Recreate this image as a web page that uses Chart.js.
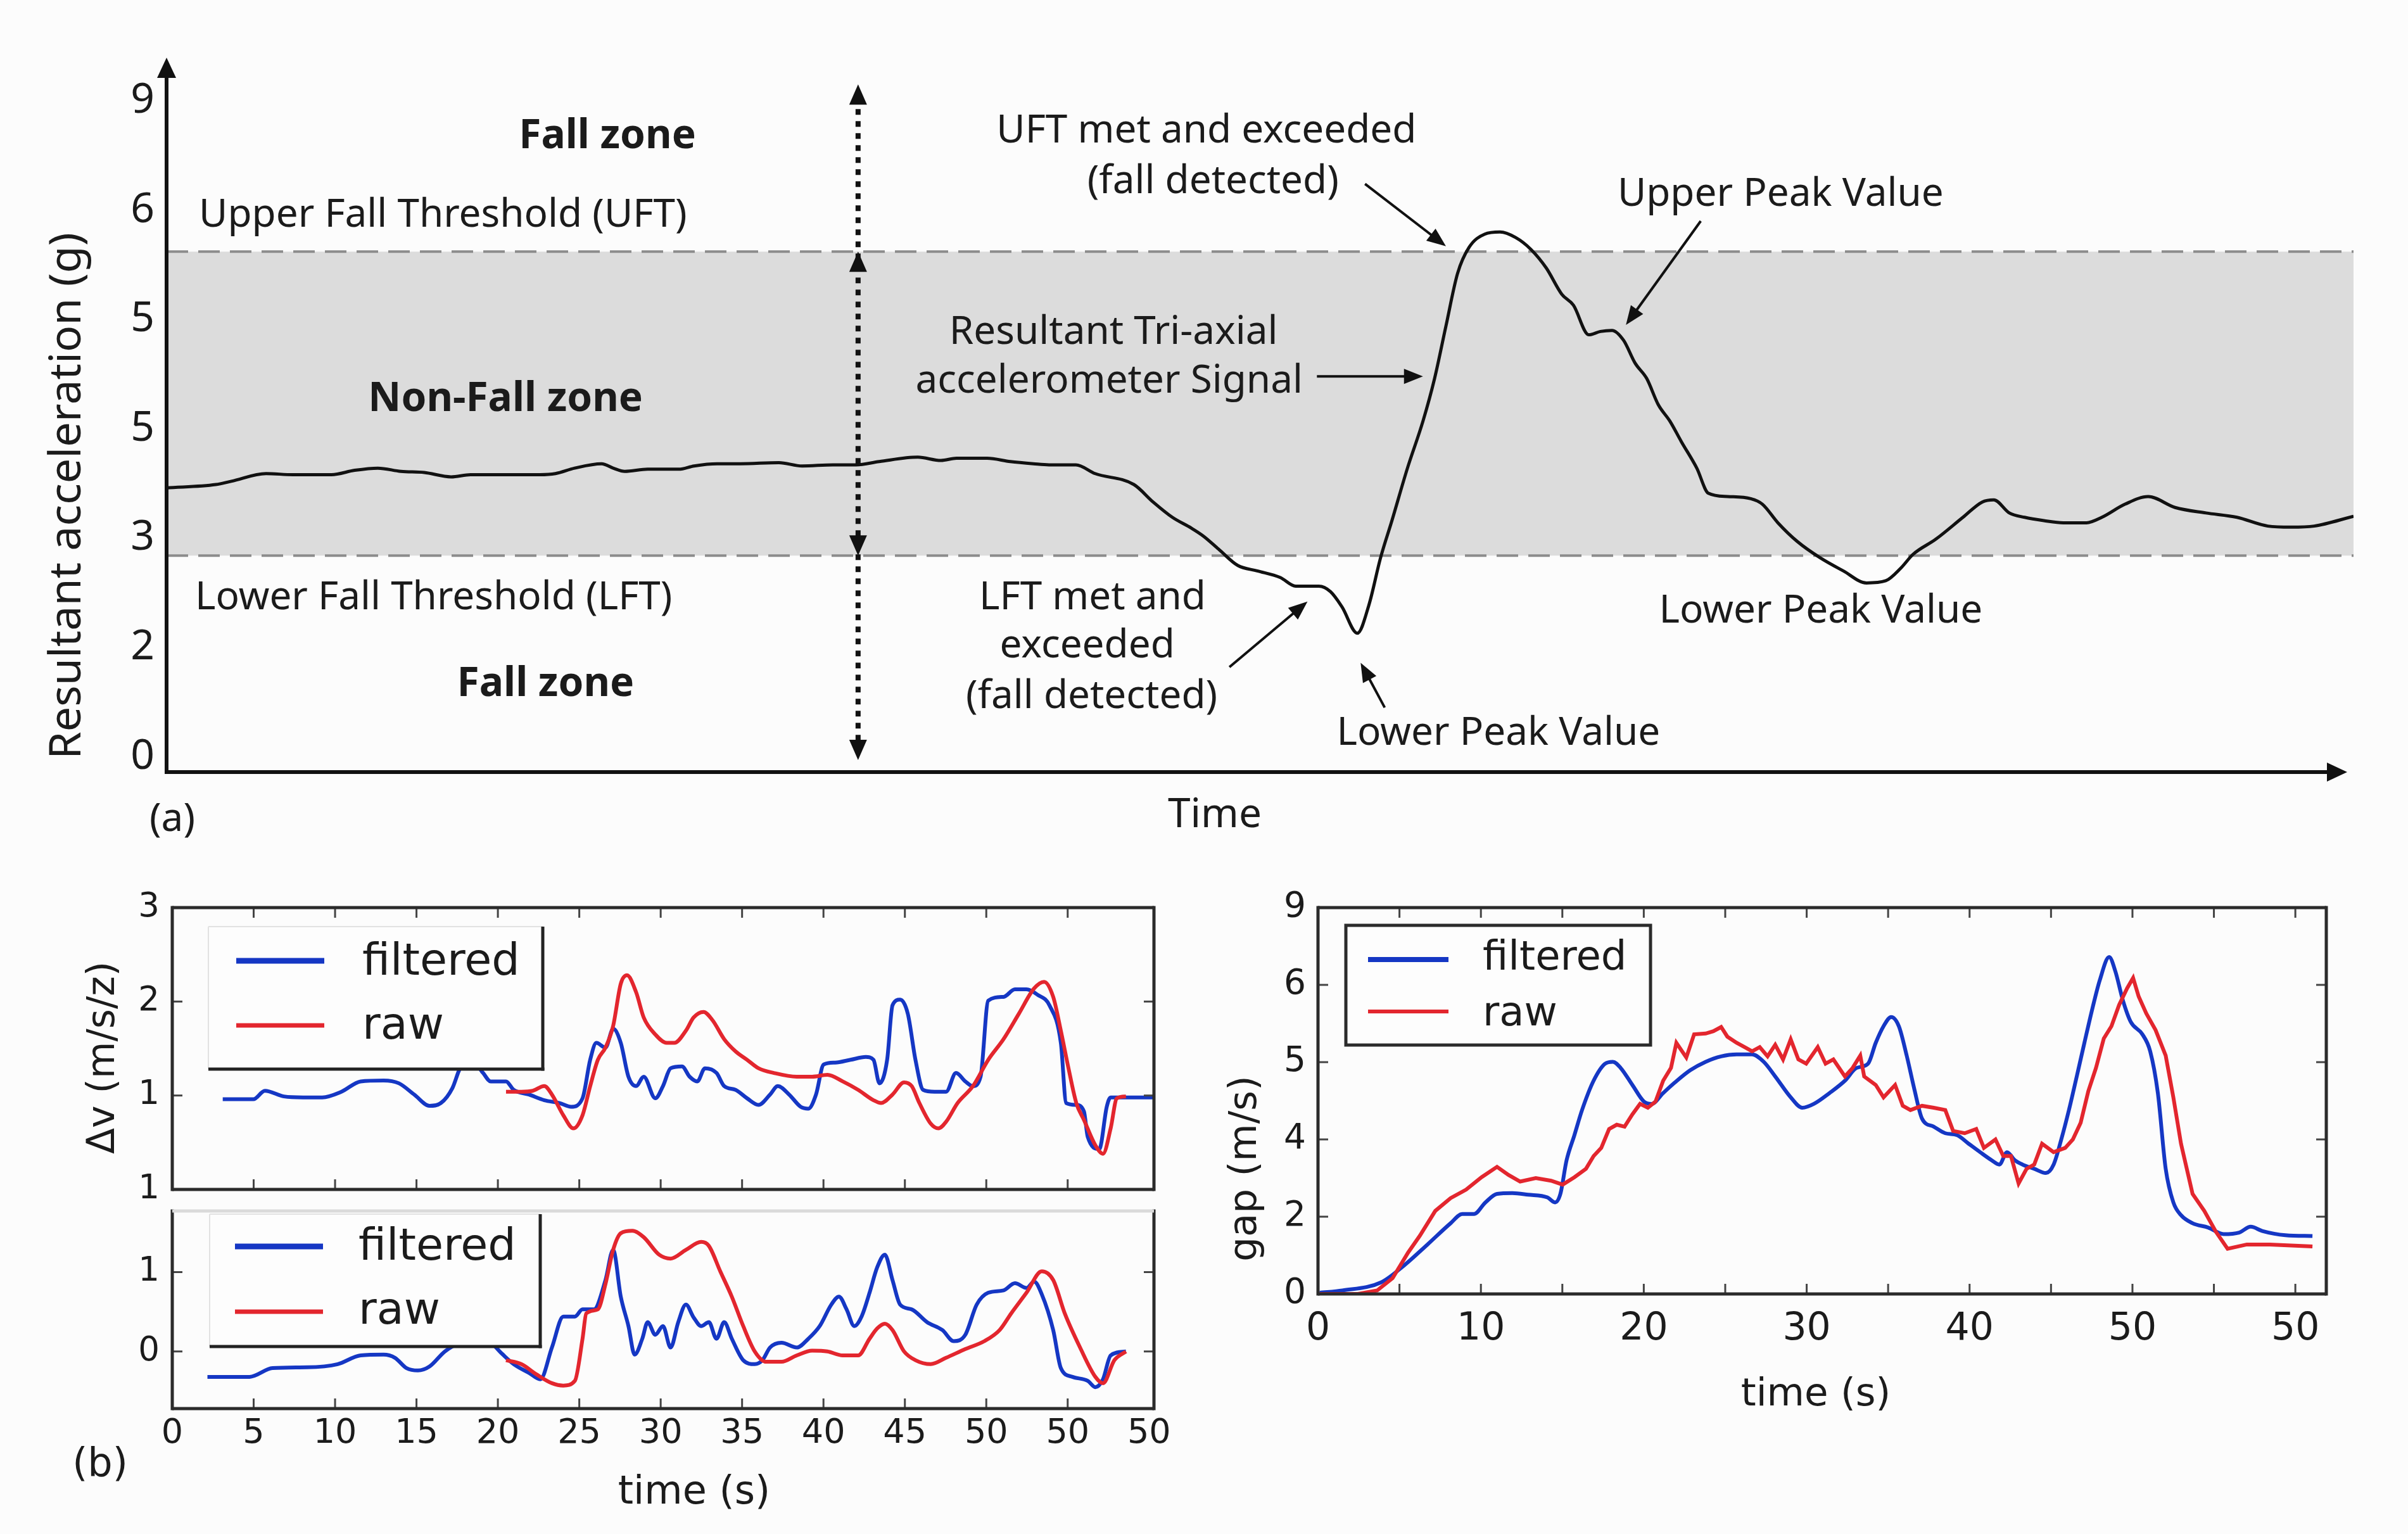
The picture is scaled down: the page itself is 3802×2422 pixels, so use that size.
<!DOCTYPE html>
<html>
<head>
<meta charset="utf-8">
<script src="https://cdn.jsdelivr.net/npm/chart.js@4.4.1/dist/chart.umd.min.js"></script>
<style>
    html, body { margin: 0; padding: 0; background: #fcfcfc; }
    body { width: 3802px; height: 2422px; position: relative; overflow: hidden; }
    .box { position: absolute; }
</style>
</head>
<body>
<div class="box" style="left:0;top:0;width:3802px;height:1340px"><canvas id="chartA"></canvas></div>
<div class="box" style="left:0;top:1380px;width:1900px;height:520px"><canvas id="chartB1"></canvas></div>
<div class="box" style="left:0;top:1850px;width:1900px;height:572px"><canvas id="chartB2"></canvas></div>
<div class="box" style="left:1900px;top:1380px;width:1902px;height:1042px"><canvas id="chartC"></canvas></div>
<script>
// (a) resultant acceleration, x is an arbitrary time axis 0..100
const signalTime = [
    0, 2.25, 2.96, 4.55, 5.78, 7.54, 8.6, 9.66, 10.72, 11.78,
    13.01, 13.9, 14.96, 17.07, 17.78, 18.66, 19.89, 20.42, 20.95, 22.0,
    23.42, 24.12, 25.18, 26.24, 28.0, 29.06, 30.47, 31.53, 32.59, 34.35,
    35.41, 36.12, 37.52, 38.58, 39.64, 40.35, 41.58, 42.46, 44.23, 45.11,
    45.99, 46.87, 47.4, 48.1, 48.98, 49.87, 50.92, 51.63, 52.69, 53.22,
    53.75, 54.45, 54.98, 55.51, 56.03, 56.74, 57.45, 57.98, 58.5, 59.03,
    59.56, 60.27, 60.97, 61.68, 62.39, 63.09, 63.8, 64.33, 65.03, 65.56,
    66.09, 66.62, 67.15, 67.68, 68.21, 68.74, 69.27, 69.97, 70.5, 71.38,
    72.44, 72.97, 73.68, 74.56, 75.61, 76.67, 77.73, 78.61, 79.32, 79.85,
    80.9, 82.14, 83.02, 83.55, 84.26, 84.96, 85.84, 86.73, 87.79, 88.49,
    89.55, 90.61, 91.84, 93.25, 94.67, 96.08, 97.14, 98.2, 100
];
const signalAccel = [
    2.46, 2.49, 2.52, 2.59, 2.58, 2.58, 2.62, 2.64, 2.61, 2.6,
    2.56, 2.58, 2.58, 2.58, 2.59, 2.64, 2.68, 2.64, 2.61, 2.63,
    2.63, 2.66, 2.68, 2.68, 2.69, 2.66, 2.67, 2.67, 2.7, 2.74,
    2.71, 2.73, 2.73, 2.7, 2.68, 2.67, 2.67, 2.59, 2.49, 2.33,
    2.19, 2.09, 2.02, 1.9, 1.75, 1.7, 1.64, 1.56, 1.56, 1.51,
    1.37, 1.13, 1.39, 1.82, 2.16, 2.64, 3.07, 3.46, 3.94, 4.42,
    4.66, 4.78, 4.8, 4.75, 4.64, 4.47, 4.23, 4.13, 3.86, 3.89,
    3.9, 3.81, 3.6, 3.46, 3.22, 3.07, 2.88, 2.64, 2.41, 2.38,
    2.36, 2.31, 2.14, 1.97, 1.82, 1.7, 1.59, 1.61, 1.73, 1.85,
    1.99, 2.19, 2.33, 2.35, 2.23, 2.19, 2.16, 2.14, 2.14, 2.19,
    2.31, 2.38, 2.28, 2.23, 2.19, 2.11, 2.1, 2.11, 2.2
];
const accelTickValues = [0, 1, 2, 3, 4, 5, 6];
const accelTickLabels = ['0', '2', '3', '5', '5', '6', '9'];
const UFT = 4.62;
const LFT = 1.84;

// (b) upper panel: delta v
const dvTopFilteredT = [
    3.1, 4.98, 5.69, 6.86, 8.04, 9.21, 10.39, 11.57, 12.98, 13.92,
    14.86, 15.8, 16.5, 17.21, 17.68, 18.38, 19.09, 19.56, 20.5, 20.97,
    21.91, 22.85, 23.79, 24.5, 25.2, 25.67, 26.05, 26.61, 27.08, 27.55,
    28.02, 28.49, 28.96, 29.67, 30.14, 30.61, 31.31, 31.78, 32.25, 32.72,
    33.43, 33.9, 34.6, 35.31, 36.01, 36.72, 37.19, 37.89, 38.6, 39.07,
    39.54, 40.01, 40.71, 41.66, 42.6, 43.07, 43.44, 43.91, 44.24, 44.71,
    45.18, 45.65, 46.12, 46.83, 47.53, 48.14, 48.71, 49.18, 49.65, 50.12,
    51.06, 51.76, 52.47, 53.17, 53.88, 54.58, 54.91, 55.53, 56.0, 56.23,
    56.94, 57.4, 57.64, 60.3
];
const dvTopFilteredV = [
    0.96, 0.96, 1.05, 0.99, 0.98, 0.98, 1.04, 1.15, 1.16, 1.13,
    1.01, 0.89, 0.92, 1.08, 1.29, 1.38, 1.24, 1.15, 1.15, 1.06,
    1.01, 0.95, 0.92, 0.88, 0.97, 1.38, 1.56, 1.51, 1.71, 1.56,
    1.2, 1.1, 1.2, 0.97, 1.1, 1.29, 1.31, 1.2, 1.15, 1.29,
    1.24, 1.1, 1.06, 0.97, 0.9, 1.01, 1.1, 1.01, 0.88, 0.86,
    1.01, 1.33, 1.35, 1.38, 1.41, 1.38, 1.13, 1.38, 1.96, 2.02,
    1.87, 1.38, 1.06, 1.04, 1.04, 1.24, 1.15, 1.1, 1.2, 2.01,
    2.05, 2.13, 2.13, 2.07, 1.96, 1.56, 0.92, 0.9, 0.83, 0.56,
    0.43, 0.88, 0.98, 0.98
];
const dvTopRawT = [
    20.5, 21.44, 22.14, 22.85, 23.32, 24.02, 24.64, 25.2, 25.67, 26.14,
    26.61, 27.08, 27.55, 27.93, 28.49, 28.96, 29.67, 30.37, 30.84, 31.55,
    32.02, 32.63, 33.19, 33.9, 34.6, 35.31, 36.01, 36.95, 38.36, 39.3,
    40.24, 41.18, 42.13, 43.07, 43.54, 44.24, 44.95, 45.42, 45.89, 46.59,
    47.06, 47.53, 48.24, 49.18, 50.12, 51.06, 52.0, 52.94, 53.55, 54.11,
    54.58, 55.05, 55.53, 56.0, 56.7, 57.17, 57.64, 58.02, 58.58
];
const dvTopRawV = [
    1.04, 1.04, 1.05, 1.1, 1.01, 0.79, 0.65, 0.79, 1.1, 1.38,
    1.51, 1.74, 2.19, 2.28, 2.1, 1.83, 1.65, 1.56, 1.56, 1.69,
    1.83, 1.89, 1.8, 1.6, 1.47, 1.38, 1.29, 1.24, 1.2, 1.2,
    1.22, 1.15, 1.06, 0.95, 0.92, 1.01, 1.14, 1.1, 0.92, 0.7,
    0.65, 0.72, 0.92, 1.1, 1.38, 1.6, 1.87, 2.14, 2.21, 2.05,
    1.69, 1.29, 0.92, 0.74, 0.47, 0.38, 0.65, 0.97, 0.99
];
const dvTopTickValues = [0, 1, 2, 3];
const dvTopTickLabels = ['1', '1', '2', '3'];

// (b) lower panel
const dvBotFilteredT = [
    2.16, 4.75, 6.16, 8.27, 10.16, 11.57, 12.98, 13.68, 14.39, 15.09,
    15.8, 16.74, 17.68, 18.62, 19.56, 20.26, 20.97, 21.91, 22.61, 23.32,
    24.02, 24.73, 25.2, 25.9, 26.61, 27.08, 27.55, 28.02, 28.4, 28.87,
    29.2, 29.67, 30.14, 30.61, 31.08, 31.55, 32.02, 32.49, 32.96, 33.43,
    33.9, 34.37, 35.07, 35.78, 36.25, 36.72, 37.42, 38.36, 39.07, 39.77,
    40.48, 40.95, 41.42, 41.89, 42.36, 42.83, 43.3, 43.77, 44.24, 44.71,
    45.42, 46.36, 47.3, 48.0, 48.71, 49.41, 50.12, 51.06, 51.76, 52.47,
    52.94, 53.41, 54.11, 54.58, 55.29, 56.23, 56.7, 57.17, 57.64, 58.58
];
const dvBotFilteredV = [
    -0.32, -0.32, -0.21, -0.2, -0.16, -0.05, -0.04, -0.08, -0.21, -0.24,
    -0.19, 0, 0.11, 0.16, 0.11, -0.03, -0.16, -0.27, -0.35, 0.05,
    0.44, 0.44, 0.53, 0.53, 0.9, 1.28, 0.69, 0.32, -0.04, 0.16,
    0.37, 0.21, 0.32, 0.05, 0.37, 0.59, 0.43, 0.32, 0.37, 0.16,
    0.37, 0.16, -0.11, -0.16, -0.11, 0.05, 0.11, 0.05, 0.16, 0.32,
    0.59, 0.69, 0.53, 0.32, 0.45, 0.74, 1.06, 1.22, 0.9, 0.59,
    0.53, 0.37, 0.27, 0.13, 0.21, 0.59, 0.74, 0.77, 0.86, 0.8,
    0.88, 0.72, 0.27, -0.21, -0.32, -0.37, -0.45, -0.35, -0.05, 0
];
const dvBotRawT = [
    20.5, 21.44, 22.38, 23.32, 24.02, 24.73, 25.2, 25.43, 26.14, 26.61,
    27.08, 27.55, 28.26, 28.96, 29.9, 30.61, 31.55, 32.49, 32.96, 33.66,
    34.37, 35.07, 35.78, 36.48, 37.42, 38.36, 39.3, 40.24, 41.18, 42.13,
    42.83, 43.3, 43.77, 44.24, 44.95, 45.65, 46.59, 47.53, 48.71, 49.88,
    50.82, 51.53, 52.47, 53.41, 54.11, 54.82, 55.76, 56.7, 57.17, 57.87,
    58.58
];
const dvBotRawV = [
    -0.11, -0.16, -0.29, -0.4, -0.43, -0.37, 0.16, 0.48, 0.53, 0.85,
    1.28, 1.49, 1.52, 1.44, 1.22, 1.17, 1.28, 1.38, 1.33, 1.01,
    0.69, 0.32, 0, -0.13, -0.13, -0.05, 0.01, 0, -0.05, -0.05,
    0.16, 0.29, 0.35, 0.27, 0, -0.11, -0.16, -0.08, 0.03, 0.13,
    0.27, 0.48, 0.74, 1.01, 0.9, 0.48, 0.05, -0.32, -0.4, -0.11,
    0
];
const dvBotTickValues = [0, 1];
const dvBotTickLabels = ['0', '1'];
const dvTimeTickValues = [0, 5, 10, 15, 20, 25, 30, 35, 40, 45, 50, 55, 60];
const dvTimeTickLabels = ['0', '5', '10', '15', '20', '25', '30', '35', '40', '45', '50', '50', '50'];
const dvTimeMarks = [5, 10, 15, 20, 25, 30, 35, 40, 45, 50, 55];

// gap panel (y in grid steps, labelled below)
const gapFilteredT = [
    0.1, 1.5, 3.87, 5.29, 6.72, 8.14, 8.86, 9.57, 10.28, 10.99,
    11.93, 12.89, 14.08, 14.55, 14.88, 15.26, 15.74, 16.21, 16.92, 17.63,
    18.1, 18.58, 19.3, 20.01, 20.48, 21.19, 21.9, 22.85, 23.8, 24.75,
    25.7, 26.65, 27.36, 28.07, 29.02, 29.73, 30.44, 31.4, 32.35, 33.06,
    33.77, 34.24, 34.72, 35.19, 35.66, 36.14, 36.61, 37.08, 37.8, 38.51,
    39.23, 39.94, 40.65, 41.36, 41.83, 42.3, 42.78, 43.25, 43.97, 44.68,
    45.16, 45.63, 46.1, 46.58, 47.05, 47.53, 48.0, 48.57, 48.95, 49.42,
    49.9, 50.61, 51.09, 51.56, 52.04, 52.51, 52.98, 53.69, 54.64, 55.59,
    56.55, 57.26, 57.97, 59.39, 61.05
];
const gapFilteredV = [
    0.03, 0.09, 0.3, 0.74, 1.28, 1.83, 2.07, 2.07, 2.37, 2.59,
    2.61, 2.57, 2.5, 2.37, 2.59, 3.46, 4.11, 4.76, 5.52, 5.96,
    6.01, 5.85, 5.41, 4.98, 4.92, 5.2, 5.47, 5.79, 6.01, 6.15,
    6.2, 6.2, 6.01, 5.63, 5.09, 4.82, 4.92, 5.2, 5.52, 5.85,
    5.96, 6.5, 6.93, 7.17, 6.93, 6.17, 5.3, 4.54, 4.33, 4.16,
    4.11, 3.89, 3.67, 3.46, 3.35, 3.67, 3.46, 3.35, 3.24, 3.13,
    3.35, 4.0, 4.76, 5.63, 6.5, 7.37, 8.13, 8.72, 8.35, 7.59,
    7.04, 6.72, 6.28, 5.2, 3.24, 2.37, 2.04, 1.83, 1.72, 1.55,
    1.59, 1.74, 1.63, 1.52, 1.5
];
const gapRawT = [
    0.1, 2.45, 3.63, 4.58, 5.53, 6.24, 7.2, 8.14, 9.09, 10.04,
    10.99, 11.7, 12.41, 13.37, 14.31, 15.02, 15.74, 16.45, 16.92, 17.39,
    17.87, 18.34, 18.82, 19.3, 19.77, 20.25, 20.72, 21.19, 21.67, 22.0,
    22.61, 23.09, 23.8, 24.27, 24.75, 25.13, 25.7, 26.18, 26.65, 27.12,
    27.6, 28.07, 28.55, 29.02, 29.49, 29.97, 30.68, 31.16, 31.64, 32.35,
    32.82, 33.29, 33.53, 34.24, 34.72, 35.43, 35.9, 36.37, 37.08, 37.8,
    38.51, 38.99, 39.7, 40.41, 40.88, 41.59, 42.07, 42.54, 43.01, 43.5,
    43.97, 44.45, 45.16, 45.87, 46.34, 46.82, 47.29, 47.76, 48.24, 48.71,
    49.18, 49.67, 50.04, 50.38, 50.85, 51.42, 52.04, 52.51, 52.98, 53.69,
    54.41, 55.12, 55.84, 57.02, 58.44, 61.05
];
const gapRawV = [
    0, 0, 0.09, 0.41, 1.07, 1.5, 2.15, 2.48, 2.7, 3.02,
    3.29, 3.08, 2.91, 3.0, 2.93, 2.83, 3.02, 3.24, 3.57, 3.78,
    4.27, 4.38, 4.33, 4.65, 4.92, 4.82, 4.98, 5.52, 5.85, 6.5,
    6.12, 6.72, 6.74, 6.8, 6.91, 6.66, 6.5, 6.39, 6.28, 6.39,
    6.15, 6.45, 6.07, 6.59, 6.07, 5.96, 6.39, 5.96, 6.07, 5.63,
    5.85, 6.17, 5.63, 5.41, 5.09, 5.41, 4.87, 4.76, 4.87, 4.82,
    4.76, 4.22, 4.16, 4.27, 3.78, 4.0, 3.57, 3.57, 2.86, 3.24,
    3.35, 3.89, 3.67, 3.78, 4.0, 4.43, 5.25, 5.85, 6.61, 6.93,
    7.48, 7.91, 8.18, 7.7, 7.26, 6.83, 6.17, 5.09, 3.89, 2.59,
    2.15, 1.61, 1.17, 1.28, 1.28, 1.23
];
const gapTickValues = [0, 2, 4, 6, 8, 10];
const gapTickLabels = ['0', '2', '4', '5', '6', '9'];
const gapTimeTickValues = [0, 10, 20, 30, 40, 50, 60];
const gapTimeTickLabels = ['0', '10', '20', '30', '40', '50', '50'];
const gapTimeMarks = [5, 10, 15, 20, 25, 30, 35, 40, 45, 50, 55, 60];
const gapMarks = [2, 4, 6, 8];

const BLUE = '#1537c4';
const RED = '#e3262e';
const INK = '#1b1b1b';
const SANS = '"Noto Sans", sans-serif';
const DEJA = '"DejaVu Sans", sans-serif';

// annotation texts of panel (a), placed in data units
const notes = [
    { text: 'Fall zone', x: 20.16, y: 5.67, bold: true },
    { text: 'Upper Fall Threshold (UFT)', x: 1.48, y: 4.95, left: true },
    { text: 'Non-Fall zone', x: 15.5, y: 3.27, bold: true },
    { text: 'Lower Fall Threshold (LFT)', x: 1.3, y: 1.45, left: true },
    { text: 'Fall zone', x: 17.33, y: 0.66, bold: true },
    { text: 'UFT met and exceeded', x: 47.55, y: 5.72 },
    { text: '(fall detected)', x: 47.85, y: 5.26 },
    { text: 'Upper Peak Value', x: 73.8, y: 5.14 },
    { text: 'Resultant Tri-axial', x: 43.3, y: 3.88 },
    { text: 'accelerometer Signal', x: 43.1, y: 3.43 },
    { text: 'LFT met and', x: 42.34, y: 1.45 },
    { text: 'exceeded', x: 42.1, y: 1.01 },
    { text: '(fall detected)', x: 42.3, y: 0.55 },
    { text: 'Lower Peak Value', x: 60.9, y: 0.21 },
    { text: 'Lower Peak Value', x: 75.64, y: 1.33 }
];
const pointers = [
    [54.8, 5.24, 58.5, 4.67],
    [70.15, 4.9, 66.73, 3.95],
    [52.6, 3.48, 57.45, 3.48],
    [48.6, 0.82, 52.17, 1.42],
    [55.7, 0.45, 54.6, 0.86]
];
const DOTTED_X = 31.62;

function fixedAxis(size) {
    return function (scale) {
        if (scale.isHorizontal()) {
            scale.height = size;
            scale.paddingLeft = 0;
            scale.paddingRight = 0;
        } else {
            scale.width = size;
            scale.paddingTop = 0;
            scale.paddingBottom = 0;
        }
    };
}

function setTicks(values) {
    return function (scale) {
        scale.ticks = values.map(v => ({ value: v }));
    };
}

function series(t, v, color, width, order, smooth) {
    return {
        data: t.map((x, i) => ({ x: x, y: v[i] })),
        borderColor: color,
        borderWidth: width,
        pointRadius: 0,
        fill: false,
        order: order,
        tension: smooth ? 0.3 : 0,
        cubicInterpolationMode: smooth ? 'monotone' : 'default'
    };
}

function line(ctx, x0, y0, x1, y1) {
    ctx.beginPath();
    ctx.moveTo(x0, y0);
    ctx.lineTo(x1, y1);
    ctx.stroke();
}

function head(ctx, x, y, ang, len, half) {
    ctx.beginPath();
    ctx.moveTo(x, y);
    ctx.lineTo(x - len * Math.cos(ang) + half * Math.sin(ang), y - len * Math.sin(ang) - half * Math.cos(ang));
    ctx.lineTo(x - len * Math.cos(ang) - half * Math.sin(ang), y - len * Math.sin(ang) + half * Math.cos(ang));
    ctx.closePath();
    ctx.fill();
}

function label(ctx, text, x, y, font, align, rot) {
    ctx.save();
    ctx.font = font;
    ctx.fillStyle = INK;
    ctx.textAlign = align || 'center';
    ctx.textBaseline = 'middle';
    ctx.translate(x, y);
    if (rot) ctx.rotate(rot);
    ctx.fillText(text, 0, 0);
    ctx.restore();
}

const zonesPlugin = {
    id: 'zones',
    beforeDatasetsDraw(chart) {
        const { ctx, chartArea: a, scales: { y } } = chart;
        const yU = y.getPixelForValue(UFT);
        const yL = y.getPixelForValue(LFT);
        ctx.save();
        ctx.fillStyle = '#dcdcdc';
        ctx.fillRect(a.left, yU, a.right - a.left, yL - yU);
        ctx.strokeStyle = '#8c8c8c';
        ctx.lineWidth = 4;
        ctx.setLineDash([34, 16]);
        line(ctx, a.left, yU, a.right, yU);
        line(ctx, a.left, yL, a.right, yL);
        ctx.restore();
    },
    afterDatasetsDraw(chart) {
        const { ctx, chartArea: a, scales: { x, y } } = chart;
        ctx.save();
        ctx.strokeStyle = '#111';
        ctx.fillStyle = '#111';
        // axes with arrows
        ctx.lineWidth = 6;
        line(ctx, a.left, a.bottom, a.left, 115);
        head(ctx, a.left, 91, -Math.PI / 2, 32, 15);
        line(ctx, a.left - 3, a.bottom, 3685, a.bottom);
        head(ctx, 3706, a.bottom, 0, 32, 15);
        // dotted double arrow
        const px = x.getPixelForValue(DOTTED_X);
        const yU = y.getPixelForValue(UFT);
        const yL = y.getPixelForValue(LFT);
        const yTop = y.getPixelForValue(6.15);
        const yBot = y.getPixelForValue(-0.03);
        ctx.lineWidth = 8;
        ctx.setLineDash([9, 10]);
        line(ctx, px, yTop + 20, px, yBot - 20);
        ctx.setLineDash([]);
        head(ctx, px, yTop, -Math.PI / 2, 32, 14);
        head(ctx, px, yU, -Math.PI / 2, 32, 14);
        head(ctx, px, yL, Math.PI / 2, 32, 14);
        head(ctx, px, yBot, Math.PI / 2, 32, 14);
        // pointer arrows
        ctx.lineWidth = 4;
        pointers.forEach(p => {
            const x0 = x.getPixelForValue(p[0]), y0 = y.getPixelForValue(p[1]);
            const x1 = x.getPixelForValue(p[2]), y1 = y.getPixelForValue(p[3]);
            const ang = Math.atan2(y1 - y0, x1 - x0);
            line(ctx, x0, y0, x1 - 20 * Math.cos(ang), y1 - 20 * Math.sin(ang));
            head(ctx, x1, y1, ang, 30, 12);
        });
        ctx.restore();
        notes.forEach(n => {
            const font = (n.bold ? 'bold 64px ' : '62px ') + SANS;
            label(ctx, n.text, x.getPixelForValue(n.x), y.getPixelForValue(n.y), font, n.left ? 'left' : 'center');
        });
        label(ctx, 'Resultant acceleration (g)', 107, 783, '70px ' + SANS, 'center', -Math.PI / 2);
        label(ctx, 'Time', 1918, 1288, '64px ' + SANS);
        label(ctx, '(a)', 272, 1294, '62px ' + SANS);
    }
};

// spines, inner tick marks, legend box and loose texts of the (b) panels
const framePlugin = {
    id: 'frame',
    afterDatasetsDraw(chart, args, opts) {
        const { ctx, chartArea: a, scales: { x, y } } = chart;
        const box = chart.canvas.parentNode;
        ctx.save();
        ctx.strokeStyle = '#444';
        ctx.lineWidth = 3;
        (opts.xMarks || []).forEach(v => {
            const p = x.getPixelForValue(v);
            line(ctx, p, a.bottom, p, a.bottom - 16);
            if (opts.topMarks) line(ctx, p, a.top, p, a.top + 16);
        });
        (opts.yMarks || []).forEach(v => {
            const p = y.getPixelForValue(v);
            line(ctx, a.left, p, a.left + 16, p);
            line(ctx, a.right, p, a.right - 16, p);
        });
        ctx.lineWidth = 5;
        ctx.strokeStyle = '#2b2b2b';
        line(ctx, a.left, a.top - 2.5, a.left, a.bottom + 2.5);
        line(ctx, a.right, a.top - 2.5, a.right, a.bottom + 2.5);
        line(ctx, a.left, a.bottom, a.right, a.bottom);
        ctx.strokeStyle = opts.topColor || '#2b2b2b';
        line(ctx, a.left, a.top, a.right, a.top);

        ctx.translate(-box.offsetLeft, -box.offsetTop);
        const lg = opts.legend;
        if (lg) {
            const [x0, y0, x1, y1] = lg.box;
            ctx.fillStyle = '#fdfdfd';
            ctx.fillRect(x0, y0, x1 - x0, y1 - y0);
            if (lg.full) {
                ctx.strokeStyle = '#2b2b2b';
                ctx.lineWidth = 5;
                ctx.strokeRect(x0, y0, x1 - x0, y1 - y0);
            } else {
                ctx.strokeStyle = '#e2e2e2';
                ctx.lineWidth = 2;
                line(ctx, x0, y1, x0, y0);
                line(ctx, x0, y0, x1, y0);
                ctx.strokeStyle = '#222';
                ctx.lineWidth = 5;
                line(ctx, x1, y0, x1, y1 + 2.5);
                line(ctx, x0, y1, x1 + 2.5, y1);
            }
            lg.rows.forEach(r => {
                ctx.strokeStyle = r.color;
                ctx.lineWidth = r.width;
                line(ctx, lg.lineX[0], r.y, lg.lineX[1], r.y);
                label(ctx, r.text, lg.textX, r.ty, lg.font, 'left');
            });
        }
        (opts.texts || []).forEach(t => label(ctx, t.text, t.x, t.y, t.font, 'center', t.rot));
        ctx.restore();
    }
};

function baseOptions(pad) {
    return {
        animation: false,
        responsive: true,
        maintainAspectRatio: false,
        events: [],
        layout: { padding: pad },
        plugins: { legend: { display: false }, tooltip: { enabled: false } }
    };
}

function axis(min, max, size, tickValues, tickLabels, font, padding) {
    const ax = {
        type: 'linear',
        min: min,
        max: max,
        grid: { display: false, drawTicks: false },
        border: { display: false },
        afterFit: fixedAxis(size)
    };
    if (tickValues) {
        ax.afterBuildTicks = setTicks(tickValues);
        ax.ticks = {
            callback: v => tickLabels[tickValues.indexOf(v)],
            font: font,
            color: INK,
            padding: padding,
            maxRotation: 0,
            autoSkip: false
        };
    } else {
        ax.ticks = { display: false };
    }
    return ax;
}

// (a)
const optA = baseOptions({ top: 97, right: 86, left: 0, bottom: 0 });
optA.scales = {
    x: axis(0, 100, 121),
    y: axis(-0.14, 6.36, 263, accelTickValues, accelTickLabels, { family: SANS, size: 66 }, 19)
};
new Chart(document.getElementById('chartA'), {
    type: 'line',
    data: { datasets: [series(signalTime, signalAccel, '#111', 5, 0, true)] },
    options: optA,
    plugins: [zonesPlugin]
});

// (b) upper
const optB1 = baseOptions({ top: 53, right: 78, left: 0, bottom: 0 });
optB1.scales = {
    x: axis(0, 60.3, 22),
    y: axis(0, 3, 272, dvTopTickValues, dvTopTickLabels, { family: DEJA, size: 53 }, 20)
};
optB1.plugins.frame = {
    xMarks: dvTimeMarks, topMarks: true, yMarks: [1, 2],
    legend: {
        box: [329, 1463, 857, 1688], full: false,
        lineX: [373, 512], textX: 572, font: '70px ' + DEJA,
        rows: [
            { text: 'filtered', color: BLUE, width: 9, y: 1517, ty: 1521 },
            { text: 'raw', color: RED, width: 7, y: 1619, ty: 1622 }
        ]
    },
    texts: [{ text: 'Δv (m/s/z)', x: 164, y: 1670, font: '60px ' + DEJA, rot: -Math.PI / 2 }]
};
new Chart(document.getElementById('chartB1'), {
    type: 'line',
    data: { datasets: [
        series(dvTopFilteredT, dvTopFilteredV, BLUE, 6, 1, true),
        series(dvTopRawT, dvTopRawV, RED, 6, 0, true)
    ] },
    options: optB1,
    plugins: [framePlugin]
});

// (b) lower
const optB2 = baseOptions({ top: 62, right: 78, left: 0, bottom: 0 });
optB2.scales = {
    x: axis(0, 60.3, 198, dvTimeTickValues, dvTimeTickLabels, { family: DEJA, size: 54 }, 8),
    y: axis(-0.72, 1.77, 272, dvBotTickValues, dvBotTickLabels, { family: DEJA, size: 53 }, 20)
};
optB2.plugins.frame = {
    xMarks: dvTimeMarks, topMarks: false, yMarks: [0, 1], topColor: '#dadada',
    legend: {
        box: [331, 1917, 853, 2126], full: false,
        lineX: [371, 510], textX: 566, font: '70px ' + DEJA,
        rows: [
            { text: 'filtered', color: BLUE, width: 9, y: 1968, ty: 1971 },
            { text: 'raw', color: RED, width: 7, y: 2071, ty: 2072 }
        ]
    },
    texts: [
        { text: 'time (s)', x: 1096, y: 2358, font: '62px ' + DEJA },
        { text: '(b)', x: 158, y: 2314, font: '62px ' + DEJA }
    ]
};
new Chart(document.getElementById('chartB2'), {
    type: 'line',
    data: { datasets: [
        series(dvBotFilteredT, dvBotFilteredV, BLUE, 6, 1, true),
        series(dvBotRawT, dvBotRawV, RED, 6, 0, true)
    ] },
    options: optB2,
    plugins: [framePlugin]
});

// gap
const optC = baseOptions({ top: 53, right: 129, left: 0, bottom: 0 });
optC.scales = {
    x: axis(0, 61.9, 379, gapTimeTickValues, gapTimeTickLabels, { family: DEJA, size: 60 }, 20),
    y: axis(0, 10, 181, gapTickValues, gapTickLabels, { family: DEJA, size: 55 }, 19)
};
optC.plugins.frame = {
    xMarks: gapTimeMarks, topMarks: true, yMarks: gapMarks,
    legend: {
        box: [2125, 1461, 2606, 1650], full: true,
        lineX: [2160, 2287], textX: 2341, font: '64px ' + DEJA,
        rows: [
            { text: 'filtered', color: BLUE, width: 8, y: 1515, ty: 1514 },
            { text: 'raw', color: RED, width: 6, y: 1597, ty: 1602 }
        ]
    },
    texts: [
        { text: 'time (s)', x: 2867, y: 2203, font: '61px ' + DEJA },
        { text: 'gap (m/s)', x: 1967, y: 1845, font: '61px ' + DEJA, rot: -Math.PI / 2 }
    ]
};
new Chart(document.getElementById('chartC'), {
    type: 'line',
    data: { datasets: [
        series(gapFilteredT, gapFilteredV, BLUE, 6, 1, true),
        series(gapRawT, gapRawV, RED, 6, 0, false)
    ] },
    options: optC,
    plugins: [framePlugin]
});
</script>
</body>
</html>
